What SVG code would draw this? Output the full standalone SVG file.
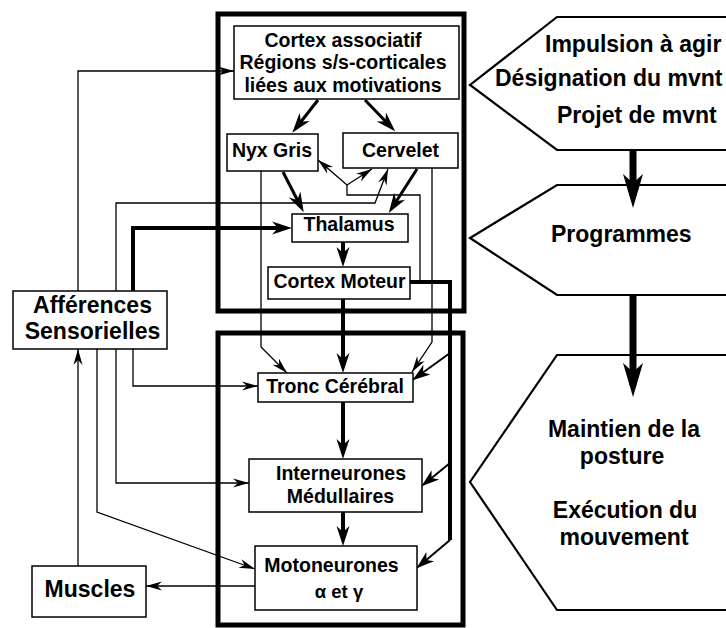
<svg xmlns="http://www.w3.org/2000/svg" width="726" height="628" viewBox="0 0 726 628">
<style>
  .bg { fill: #ffffff; }
  .box { fill: #ffffff; stroke: #000; stroke-width: 1.5; }
  .big { fill: none; stroke: #000; stroke-width: 5; }
  .shape { fill: #ffffff; stroke: #000; stroke-width: 2.2; stroke-linejoin: miter; }
  text { font-family: "Liberation Sans", Arial, sans-serif; font-weight: bold; fill: #000; }
  .t { font-size: 19.5px; text-anchor: middle; }
  .tl { font-size: 23px; text-anchor: middle; }
  .ts { font-size: 23px; }
  .thin { fill: none; stroke: #000; stroke-width: 1.3; }
  .med { fill: none; stroke: #000; stroke-width: 2; }
  .thick { fill: none; stroke: #000; stroke-width: 4; }
  .diag { fill: none; stroke: #000; stroke-width: 3; }
  .huge { fill: none; stroke: #000; stroke-width: 7; }
</style>
<defs>
  <marker id="at" markerUnits="userSpaceOnUse" markerWidth="17" markerHeight="10" refX="16" refY="4.5" orient="auto" overflow="visible">
    <path d="M0,0 L16,4.5 L0,9 L5,4.5 z" fill="#000"/>
  </marker>
  <marker id="am" markerUnits="userSpaceOnUse" markerWidth="19" markerHeight="12" refX="16" refY="6" orient="auto" overflow="visible">
    <path d="M0,0 L18,6 L0,12 L5,6 z" fill="#000"/>
  </marker>
  <marker id="ak" markerUnits="userSpaceOnUse" markerWidth="21" markerHeight="14" refX="14" refY="6.5" orient="auto" overflow="visible">
    <path d="M0,0 L20,6.5 L0,13 L6,6.5 z" fill="#000"/>
  </marker>
  <marker id="ab" markerUnits="userSpaceOnUse" markerWidth="35" markerHeight="21" refX="22" refY="10" orient="auto" overflow="visible">
    <path d="M0,0 L34,10 L0,20 L9,10 z" fill="#000"/>
  </marker>
</defs>
<rect class="bg" x="0" y="0" width="726" height="628"/>

<g id="frames">
  <rect class="big" x="218" y="14" width="246" height="297"/>
  <rect class="big" x="218" y="333" width="245" height="292"/>
</g>

<g id="levels">
  <g id="level-projet">
    <polygon class="shape" points="557,17 740,17 740,150 557,150 470,85"/>
    <text class="ts" x="545" y="52">Impulsion à agir</text>
    <text class="ts" x="495" y="86">Désignation du mvnt</text>
    <text class="ts" x="557" y="123">Projet de mvnt</text>
  </g>
  <g id="level-programmes">
    <polygon class="shape" points="557,185 740,185 740,295 557,295 470,238"/>
    <text class="ts" x="551" y="242">Programmes</text>
  </g>
  <g id="level-execution">
    <polygon class="shape" points="557,355 740,355 740,610 557,610 470,482"/>
    <text class="tl" x="624" y="437">Maintien de la</text>
    <text class="tl" x="622" y="464">posture</text>
    <text class="tl" x="625" y="518">Exécution du</text>
    <text class="tl" x="624" y="545">mouvement</text>
  </g>
</g>

<g id="connectors">
  <path class="thin" d="M78,291 V71 H234" marker-end="url(#at)"/>
  <path class="thin" d="M116,291 V203 H375 L388,169" marker-end="url(#at)"/>
  <path class="thick" d="M133,291 V228 H286" marker-end="url(#ak)"/>
  <path class="diag" d="M318,100 L296,128" marker-end="url(#ak)"/>
  <path class="diag" d="M365,100 L391,127" marker-end="url(#ak)"/>
  <path class="diag" d="M283,172 L301,207" marker-end="url(#ak)"/>
  <path class="diag" d="M417,169 L392,208" marker-end="url(#ak)"/>
  <path class="thin" d="M420,282 V195 H347 V185"/>
  <path class="thin" d="M347,185 L318,160" marker-end="url(#at)"/>
  <path class="thin" d="M347,185 L372,169" marker-end="url(#at)"/>
  <path class="thin" d="M432,168 V342 L412,372" marker-end="url(#at)"/>
  <path class="thin" d="M261,171 V347 L287,373" marker-end="url(#at)"/>
  <path class="thick" d="M343,242 V261" marker-end="url(#ak)"/>
  <path class="thick" d="M343,299 V367" marker-end="url(#ak)"/>
  <path class="thick" d="M343,402 V453" marker-end="url(#ak)"/>
  <path class="thick" d="M343,512 V540" marker-end="url(#ak)"/>
  <path class="thick" d="M410,282 H450 V540" stroke-linejoin="miter"/>
  <path class="med" d="M450,353 L414,379" marker-end="url(#am)"/>
  <path class="med" d="M450,463 L423,485" marker-end="url(#am)"/>
  <path class="med" d="M450,540 L418,567" marker-end="url(#am)"/>
  <path class="thin" d="M133,349 V386 H258" marker-end="url(#at)"/>
  <path class="thin" d="M116,349 V483 H249" marker-end="url(#at)"/>
  <path class="thin" d="M97,349 V512 L255,569" marker-end="url(#at)"/>
  <path class="thin" d="M78,566 V349" marker-end="url(#at)"/>
  <path class="thin" d="M255,586 H146" marker-end="url(#at)"/>
  <path class="huge" d="M633,150 V196" marker-end="url(#ab)"/>
  <path class="huge" d="M633,295 V385" marker-end="url(#ab)"/>
</g>

<g id="cortex-associatif">
  <rect class="box" x="234" y="26" width="225" height="73"/>
  <text class="t" x="343" y="46.5">Cortex associatif</text>
  <text class="t" x="343" y="69">Régions s/s-corticales</text>
  <text class="t" x="343" y="91.5">liées aux motivations</text>
</g>
<g id="nyx-gris">
  <rect class="box" x="227" y="134" width="91" height="37"/>
  <text class="t" x="272" y="157">Nyx Gris</text>
</g>
<g id="cervelet">
  <rect class="box" x="343" y="133" width="115" height="35"/>
  <text class="t" x="400.5" y="157">Cervelet</text>
</g>
<g id="thalamus">
  <rect class="box" x="292" y="214" width="116" height="28"/>
  <text class="t" x="349" y="231">Thalamus</text>
</g>
<g id="cortex-moteur">
  <rect class="box" x="268" y="267" width="142" height="32"/>
  <text class="t" x="339.5" y="288">Cortex Moteur</text>
</g>
<g id="tronc-cerebral">
  <rect class="box" x="258" y="373" width="155" height="29"/>
  <text class="t" x="335" y="393">Tronc Cérébral</text>
</g>
<g id="interneurones">
  <rect class="box" x="249" y="459" width="173" height="53"/>
  <text class="t" x="341" y="480">Interneurones</text>
  <text class="t" x="340.5" y="503">Médullaires</text>
</g>
<g id="motoneurones">
  <rect class="box" x="255" y="546" width="162" height="64"/>
  <text class="t" x="331.5" y="572">Motoneurones</text>
  <text class="t" x="339" y="598" style="font-size:18.5px">α et γ</text>
</g>
<g id="afferences">
  <rect class="box" x="13" y="291" width="154" height="58"/>
  <text class="tl" x="92.5" y="313">Afférences</text>
  <text class="tl" x="92.5" y="339">Sensorielles</text>
</g>
<g id="muscles">
  <rect class="box" x="32" y="566" width="114" height="51"/>
  <text class="tl" x="90" y="597">Muscles</text>
</g>
</svg>
